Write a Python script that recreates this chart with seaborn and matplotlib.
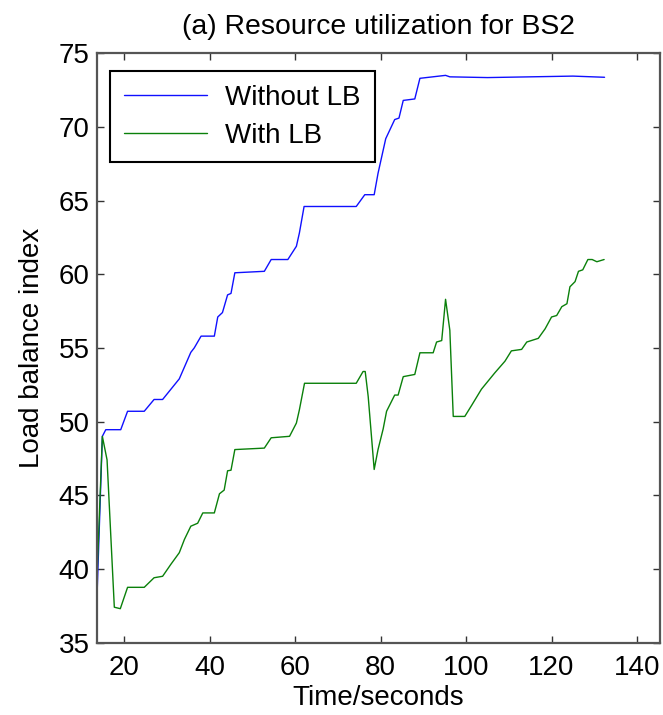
import matplotlib
matplotlib.use("Agg")
import matplotlib.pyplot as plt
import seaborn as sns
import pandas as pd

series_names = ["Without LB", "With LB"]

blue_x = [13.6, 14.9, 15.7, 19.2, 20.8, 24.7, 27.0, 29.0, 32.9, 35.6,
          36.4, 38.0, 41.1, 41.9, 43.0, 44.2, 45.0, 45.9, 52.8, 54.4,
          58.3, 60.3, 61.0, 62.1, 74.3, 76.3, 78.5, 79.4, 81.2, 83.3,
          84.3, 85.3, 88.0, 89.2, 95.2, 96.2, 105, 115, 125, 132.4]
blue_y = [37.7, 49.0, 49.45, 49.45, 50.7, 50.7, 51.5, 51.5, 52.9, 54.7,
          55.0, 55.8, 55.8, 57.1, 57.4, 58.6, 58.7, 60.1, 60.2, 61.0,
          61.0, 61.9, 62.8, 64.6, 64.6, 65.4, 65.4, 66.85, 69.2, 70.5,
          70.6, 71.8, 71.9, 73.3, 73.5, 73.4, 73.35, 73.4, 73.45, 73.37]

green_x = [13.6, 14.9, 16.0, 17.7, 19.1, 20.8, 24.7, 27.0, 29.0, 30.9,
           32.9, 34.1, 35.6, 37.2, 38.4, 41.1, 42.3, 43.4, 44.2, 45.0,
           45.9, 52.8, 54.4, 58.7, 60.3, 61.0, 62.2, 74.3, 75.9, 76.4,
           77.1, 78.5, 79.4, 80.6, 81.4, 83.3, 84.1, 85.3, 88.0, 89.2,
           92.3, 93.1, 94.3, 95.2, 96.2, 97.0, 99.7, 101.3, 103.6, 106.7,
           109.1, 110.6, 113.0, 114.2, 116.9, 118.5, 120.0, 121.2, 122.4, 123.6,
           124.3, 125.5, 126.3, 127.3, 128.5, 129.5, 130.6, 132.3]
green_y = [39.0, 49.0, 47.4, 37.4, 37.3, 38.75, 38.75, 39.4, 39.5, 40.3,
           41.1, 42.0, 42.9, 43.1, 43.8, 43.8, 45.1, 45.35, 46.66, 46.7,
           48.1, 48.2, 48.9, 49.0, 49.9, 50.8, 52.6, 52.6, 53.4, 53.4,
           51.7, 46.75, 48.1, 49.5, 50.7, 51.8, 51.8, 53.05, 53.2, 54.67,
           54.67, 55.4, 55.5, 58.3, 56.2, 50.35, 50.35, 51.1, 52.2, 53.3,
           54.1, 54.8, 54.9, 55.4, 55.65, 56.3, 57.1, 57.2, 57.8, 58.0,
           59.15, 59.5, 60.2, 60.3, 61.0, 61.0, 60.85, 61.0]

x_ticks = [20, 40, 60, 80, 100, 120, 140]
y_ticks = [35, 40, 45, 50, 55, 60, 65, 70, 75]

df = pd.concat([
    pd.DataFrame({"t": blue_x, "v": blue_y, "s": series_names[0]}),
    pd.DataFrame({"t": green_x, "v": green_y, "s": series_names[1]}),
], ignore_index=True)

sns.set_style("ticks")
plt.rcParams["font.family"] = ["Liberation Sans", "DejaVu Sans"]
plt.rcParams["text.color"] = "black"
plt.rcParams["axes.labelcolor"] = "black"
plt.rcParams["xtick.labelcolor"] = "black"
plt.rcParams["ytick.labelcolor"] = "black"

fig = plt.figure(figsize=(6.63, 7.15), dpi=100)
ax = fig.add_axes([0.146, 0.1013, 0.849, 0.8242])

sns.lineplot(data=df, x="t", y="v", hue="s", hue_order=series_names,
             palette=["#1010ff", "#0a800a"], estimator=None, sort=False,
             linewidth=1.0, ax=ax)

ax.set_xlim(13.6, 145.3)
ax.set_ylim(35, 75)
ax.set_xticks(x_ticks)
ax.set_yticks(y_ticks)
ax.tick_params(direction="in", top=True, right=True, length=5, width=1,
               labelsize=20, color="#333333", labelcolor="black")
ax.tick_params(axis="x", pad=9)
ax.tick_params(axis="y", pad=5)
for sp in ax.spines.values():
    sp.set_visible(True)
    sp.set_color("#555555")
    sp.set_linewidth(1.6)

ax.set_xlabel("Time/seconds", fontsize=20, labelpad=3, color="black")
ax.set_ylabel("Load balance index", fontsize=20, labelpad=10, color="black")
ax.set_title("(a) Resource utilization for BS2", fontsize=20.4, pad=14,
             color="black")

leg = ax.legend(loc="upper left", bbox_to_anchor=(0.0236, 0.970),
                borderaxespad=0, fontsize=20, handlelength=3.0,
                handletextpad=0.65, borderpad=0.5, labelspacing=0.42,
                fancybox=False, framealpha=1, edgecolor="black")
leg.get_frame().set_linewidth(1.5)
for t in leg.get_texts():
    t.set_color("black")

fig.savefig("out.png", dpi=100)
